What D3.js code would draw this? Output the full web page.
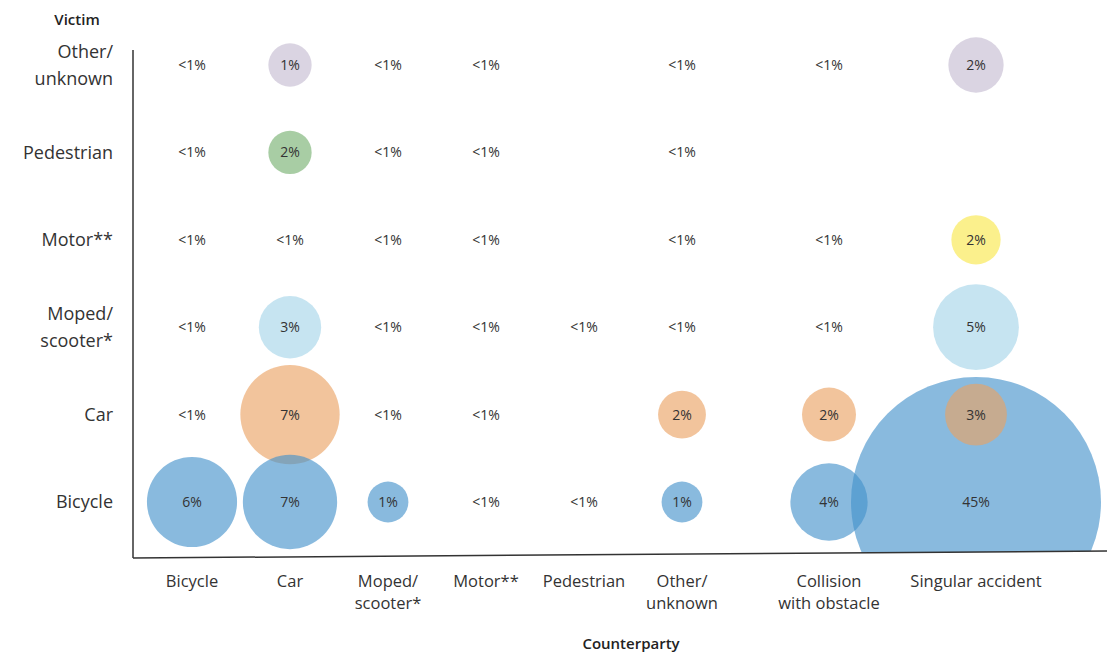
<!DOCTYPE html>
<html>
<head>
<meta charset="utf-8">
<script src="https://cdn.jsdelivr.net/npm/d3@7"></script>
<style>
  html, body { margin: 0; padding: 0; background: #fff; }
  svg { display: block; font-family: "Open Sans", "Noto Sans", sans-serif; }
</style>
</head>
<body>
<svg id="chart" width="1107" height="656"></svg>
<script>
// ---- data ----
const victims = ["Other/\nunknown", "Pedestrian", "Motor**", "Moped/\nscooter*", "Car", "Bicycle"];
const counterparties = ["Bicycle", "Car", "Moped/\nscooter*", "Motor**", "Pedestrian", "Other/\nunknown", "Collision\nwith obstacle", "Singular accident"];

const labelsOther   = ["<1%", "1%",  "<1%", "<1%", "",    "<1%", "<1%", "2%"];
const labelsPed     = ["<1%", "2%",  "<1%", "<1%", "",    "<1%", "",    ""];
const labelsMotor   = ["<1%", "<1%", "<1%", "<1%", "",    "<1%", "<1%", "2%"];
const labelsMoped   = ["<1%", "3%",  "<1%", "<1%", "<1%", "<1%", "<1%", "5%"];
const labelsCar     = ["<1%", "7%",  "<1%", "<1%", "",    "2%",  "2%",  "3%"];
const labelsBicycle = ["6%",  "7%",  "1%",  "<1%", "<1%", "1%",  "4%",  "45%"];

// estimated share (%) behind each bubble; 0 = no bubble drawn
const sizesOther   = [0,    1.35, 0,   0, 0, 0,   0,   2.2];
const sizesPed     = [0,    1.35, 0,   0, 0, 0,   0,   0];
const sizesMotor   = [0,    0,    0,   0, 0, 0,   0,   1.75];
const sizesMoped   = [0,    2.8,  0,   0, 0, 0,   0,   5.3];
const sizesCar     = [0,    7.1,  0,   0, 0, 1.65, 2.1, 2.75];
const sizesBicycle = [5.85, 6.4,  1.2, 0, 0, 1.2, 4.3, 45];

const rowLabels = [labelsOther, labelsPed, labelsMotor, labelsMoped, labelsCar, labelsBicycle];
const rowSizes  = [sizesOther, sizesPed, sizesMotor, sizesMoped, sizesCar, sizesBicycle];

// ---- styles / layout ----
const rowColors = ["#c5bbd1", "#75b06f", "#f9e849", "#a5d5e9", "#eba262", "#4492cb"];
const colSlots = [0, 2, 4, 6, 8, 10, 13, 16];
const textColor = "#333";

const svg = d3.select("#chart");

const x = d3.scaleLinear().domain([0, 16]).range([192, 976]);
const y = d3.scalePoint().domain(victims).range([65, 502]);
const r = d3.scaleSqrt().domain([0, 45]).range([0, 125]);

const axisX0 = 133, axisTop = 50, axisYLeft = 558, axisYRight = 551, axisX1 = 1107;

// clip above the (slightly tilted) bottom axis
svg.append("defs").append("clipPath").attr("id", "plotClip")
  .append("polygon")
  .attr("points", [[0, 0], [1107, 0], [axisX1, axisYRight], [axisX0, axisYLeft], [0, axisYLeft]].map(p => p.join(",")).join(" "));

// build cells
const cells = [];
victims.forEach((v, i) => {
  counterparties.forEach((c, j) => {
    cells.push({ victim: v, col: j, size: rowSizes[i][j], label: rowLabels[i][j], color: rowColors[i] });
  });
});

// bubbles, largest first
const bubbles = cells.filter(d => d.size > 0).sort((a, b) => b.size - a.size);
svg.append("g").attr("clip-path", "url(#plotClip)")
  .selectAll("circle").data(bubbles).join("circle")
  .attr("cx", d => x(colSlots[d.col]))
  .attr("cy", d => y(d.victim))
  .attr("r", d => r(d.size))
  .attr("fill", d => d.color)
  .attr("fill-opacity", 0.63);

// cell labels
svg.append("g").selectAll("text").data(cells.filter(d => d.label)).join("text")
  .attr("x", d => x(colSlots[d.col]))
  .attr("y", d => y(d.victim))
  .attr("dy", "0.35em")
  .attr("text-anchor", "middle")
  .attr("font-size", 14)
  .attr("fill", textColor)
  .text(d => d.label);

// axes lines
svg.append("line").attr("x1", axisX0).attr("x2", axisX0).attr("y1", axisTop).attr("y2", axisYLeft)
  .attr("stroke", "#333").attr("stroke-width", 1.5);
svg.append("line").attr("x1", axisX0).attr("x2", axisX1).attr("y1", axisYLeft).attr("y2", axisYRight)
  .attr("stroke", "#333").attr("stroke-width", 1.5);

// y labels
const yl = svg.append("g").selectAll("text").data(victims).join("text")
  .attr("text-anchor", "end")
  .attr("font-size", 18)
  .attr("fill", textColor);
yl.each(function(d) {
  const lines = d.split("\n");
  const t = d3.select(this);
  lines.forEach((ln, k) => {
    t.append("tspan")
      .attr("x", 113)
      .attr("y", y(d) + (k - (lines.length - 1) / 2) * 27)
      .attr("dy", "0.35em")
      .text(ln);
  });
});

// x labels
const xl = svg.append("g").selectAll("text").data(counterparties).join("text")
  .attr("text-anchor", "middle")
  .attr("font-size", 16.5)
  .attr("fill", textColor);
xl.each(function(d, j) {
  const lines = d.split("\n");
  const t = d3.select(this);
  lines.forEach((ln, k) => {
    t.append("tspan")
      .attr("x", x(colSlots[j]))
      .attr("y", 581 + k * 22)
      .attr("dy", "0.35em")
      .text(ln);
  });
});

// axis titles
svg.append("text").attr("x", 77).attr("y", 20).attr("dy", "0.35em")
  .attr("text-anchor", "middle").attr("font-size", 15).attr("font-weight", 600)
  .attr("fill", "#222").text("Victim");
svg.append("text").attr("x", 631).attr("y", 644).attr("dy", "0.35em")
  .attr("text-anchor", "middle").attr("font-size", 15).attr("font-weight", 600)
  .attr("fill", "#222").text("Counterparty");
</script>
</body>
</html>
